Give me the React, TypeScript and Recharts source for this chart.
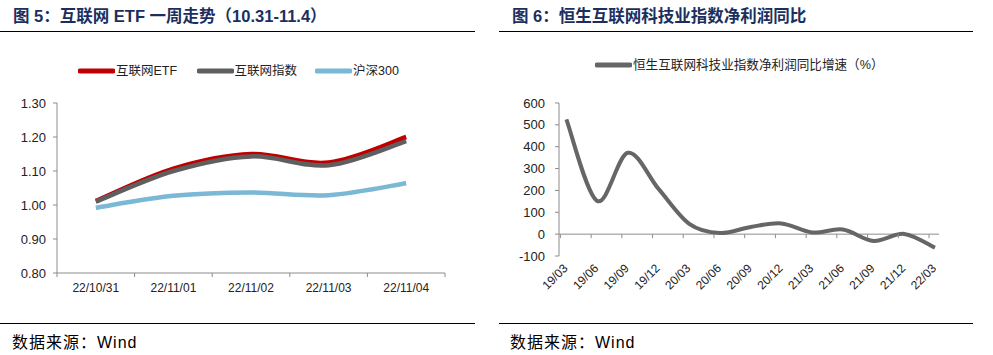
import React from 'react';
import { LineChart, Line, XAxis, YAxis, ReferenceLine, ReferenceDot } from 'recharts';

// 图5 data
const weekDates = ['22/10/31', '22/11/01', '22/11/02', '22/11/03', '22/11/04'];
const etfValues = [1.012, 1.107, 1.150, 1.125, 1.200];
const indexValues = [1.010, 1.100, 1.143, 1.117, 1.188];
const hs300Values = [0.992, 1.027, 1.037, 1.029, 1.064];
const weekTicks = [0.8, 0.9, 1.0, 1.1, 1.2, 1.3];
const weekSeries = ['互联网ETF', '互联网指数', '沪深300'];
const weekColors = ['#C00000', '#5F5F5F', '#7AB8D5'];

// 图6 data
const quarters = ['19/03', '19/06', '19/09', '19/12', '20/03', '20/06', '20/09', '20/12', '21/03', '21/06', '21/09', '21/12', '22/03'];
const profitGrowth = [525, 152, 372, 207, 47, 5, 33, 49, 8, 21, -31, 1, -62];
const growthTicks = [-100, 0, 100, 200, 300, 400, 500, 600];
const growthName = '恒生互联网科技业指数净利润同比增速（%）';

const FONT = '"Liberation Sans", Arial, "Noto Sans CJK SC", sans-serif';
const TITLE = '#1B2F5E';
const AXIS = '#8C8C8C';
const TEXT = '#222';

const weekData = weekDates.map((d, i) => ({ d, etf: etfValues[i], idx: indexValues[i], hs: hs300Values[i] }));
const growthData = quarters.map((q, i) => ({ q, v: profitGrowth[i] }));

// excel-like smoothing (catmull-rom style bezier)
const excelCurve: any = (context: any) => {
  let pts: number[][] = [];
  return {
    areaStart() {},
    areaEnd() {},
    lineStart() { pts = []; },
    point(x: number, y: number) { pts.push([+x, +y]); },
    lineEnd() {
      if (!pts.length) return;
      context.moveTo(pts[0][0], pts[0][1]);
      for (let i = 0; i < pts.length - 1; i++) {
        const p0 = pts[i - 1] || pts[i];
        const p1 = pts[i];
        const p2 = pts[i + 1];
        const p3 = pts[i + 2] || p2;
        context.bezierCurveTo(
          p1[0] + (p2[0] - p0[0]) / 6, p1[1] + (p2[1] - p0[1]) / 6,
          p2[0] - (p3[0] - p1[0]) / 6, p2[1] - (p3[1] - p1[1]) / 6,
          p2[0], p2[1]
        );
      }
    },
  };
};

const LEFT_W = 480;
const LEFT_PLOT_W = LEFT_W - 57 - 35;
const LEFT_PAD = LEFT_PLOT_W / (2 * weekDates.length);

const WeekTick = (props: any) => {
  const { x, y, payload, index } = props;
  const last = index === weekDates.length - 1;
  return (
    <g>
      <line x1={x - LEFT_PAD} x2={x - LEFT_PAD} y1={y} y2={y + 4} stroke={AXIS} />
      {last && <line x1={x + LEFT_PAD} x2={x + LEFT_PAD} y1={y} y2={y + 4} stroke={AXIS} />}
      <text x={x} y={y + 19} textAnchor="middle" fontSize={12} fill={TEXT} fontFamily={FONT}>{payload.value}</text>
    </g>
  );
};

const QuarterTick = (props: any) => {
  const { x, y, payload } = props;
  const tx = x + 2;
  const ty = y + 13;
  return (
    <text x={tx} y={ty} textAnchor="end" transform={`rotate(-45, ${tx}, ${ty})`} fontSize={12} fill={TEXT} fontFamily={FONT}>
      {payload.value}
    </text>
  );
};

const zeroTick = (p: any) => (
  <line x1={p.cx - 6} x2={p.cx - 6} y1={p.cy} y2={p.cy + 4} stroke={AXIS} />
);

const LegendItem = ({ color, label, width }: { color: string; label: string; width?: number }) => (
  <div style={{ display: 'flex', alignItems: 'center', width }}>
    <svg width={37} height={10}>
      <line x1={2} x2={35} y1={5} y2={5} stroke={color} strokeWidth={5} strokeLinecap="round" />
    </svg>
    <span style={{ marginLeft: 1 }}>{label}</span>
  </div>
);

export default function App() {
  return (
    <div style={{ position: 'absolute', left: 0, top: 0, width: 993, height: 355, background: '#fff', fontFamily: FONT, color: TEXT }}>
      {/* titles */}
      <div style={{ position: 'absolute', left: 13, top: 6, fontSize: 16.5, lineHeight: '20px', fontWeight: 'bold', color: TITLE, whiteSpace: 'nowrap' }}>
        图 5：互联网 ETF 一周走势（10.31-11.4）
      </div>
      <div style={{ position: 'absolute', left: 512, top: 6, fontSize: 16.5, lineHeight: '20px', fontWeight: 'bold', color: TITLE, whiteSpace: 'nowrap' }}>
        图 6：恒生互联网科技业指数净利润同比
      </div>
      <div style={{ position: 'absolute', left: 0, top: 31, width: 475, borderTop: '1.5px solid #000' }} />
      <div style={{ position: 'absolute', left: 499, top: 31, width: 474, borderTop: '1.5px solid #000' }} />

      {/* left legend */}
      <div style={{ position: 'absolute', left: 78, top: 62, height: 18, display: 'flex', fontSize: 12.5, lineHeight: '18px', whiteSpace: 'nowrap' }}>
        {weekSeries.map((s, i) => (
          <LegendItem key={s} color={weekColors[i]} label={s} width={118.5} />
        ))}
      </div>

      <div style={{ position: 'absolute', left: 0, top: 50 }}>
        <LineChart width={LEFT_W} height={250} data={weekData} margin={{ top: 53, right: 35, left: 0, bottom: 0 }}>
          <XAxis
            dataKey="d"
            interval={0}
            height={27}
            padding={{ left: LEFT_PAD, right: LEFT_PAD }}
            axisLine={{ stroke: AXIS }}
            tickLine={false}
            tickSize={0}
            tickMargin={0}
            tick={<WeekTick />}
          />
          <YAxis
            width={57}
            domain={[0.8, 1.3]}
            ticks={weekTicks}
            interval={0}
            tickFormatter={(v: number) => v.toFixed(2)}
            axisLine={{ stroke: AXIS }}
            tickLine={{ stroke: AXIS }}
            tickSize={4}
            tickMargin={7}
            tick={{ fontSize: 13, fill: TEXT, fontFamily: FONT }}
          />
          <Line dataKey="etf" type={excelCurve} stroke={weekColors[0]} strokeWidth={4.5} dot={false} activeDot={false} isAnimationActive={false} />
          <Line dataKey="idx" type={excelCurve} stroke={weekColors[1]} strokeWidth={4.5} dot={false} activeDot={false} isAnimationActive={false} />
          <Line dataKey="hs" type={excelCurve} stroke={weekColors[2]} strokeWidth={4.5} dot={false} activeDot={false} isAnimationActive={false} />
        </LineChart>
      </div>

      {/* right legend */}
      <div style={{ position: 'absolute', left: 595, top: 56, height: 18, display: 'flex', fontSize: 12.6, lineHeight: '18px', whiteSpace: 'nowrap' }}>
        <LegendItem color="#666666" label={growthName} />
      </div>

      <div style={{ position: 'absolute', left: 500, top: 50 }}>
        <LineChart width={493} height={250} data={growthData} margin={{ top: 53, right: 54, left: 0, bottom: 0 }}>
          <XAxis
            dataKey="q"
            interval={0}
            height={44}
            padding={{ left: 7.4, right: 4 }}
            axisLine={false}
            tickLine={false}
            tickSize={0}
            tickMargin={0}
            tick={<QuarterTick />}
          />
          <YAxis
            width={59}
            domain={[-100, 600]}
            ticks={growthTicks}
            interval={0}
            axisLine={{ stroke: AXIS }}
            tickLine={{ stroke: AXIS }}
            tickSize={4}
            tickMargin={10}
            tick={{ fontSize: 13, fill: TEXT, fontFamily: FONT }}
          />
          <ReferenceLine y={0} stroke={AXIS} />
          {quarters.map((q) => (
            <ReferenceDot key={q} x={q} y={0} r={0} shape={zeroTick} />
          ))}
          <Line dataKey="v" type={excelCurve} stroke="#666666" strokeWidth={4} dot={false} activeDot={false} isAnimationActive={false} />
        </LineChart>
      </div>

      {/* sources */}
      <div style={{ position: 'absolute', left: 0, top: 323, width: 475, borderTop: '1.5px solid #000' }} />
      <div style={{ position: 'absolute', left: 499, top: 323, width: 474, borderTop: '1.5px solid #000' }} />
      <div style={{ position: 'absolute', left: 12, top: 334, fontSize: 16, letterSpacing: 1, lineHeight: '18px', color: '#000' }}>数据来源：Wind</div>
      <div style={{ position: 'absolute', left: 510, top: 334, fontSize: 16, letterSpacing: 1, lineHeight: '18px', color: '#000' }}>数据来源：Wind</div>
    </div>
  );
}
